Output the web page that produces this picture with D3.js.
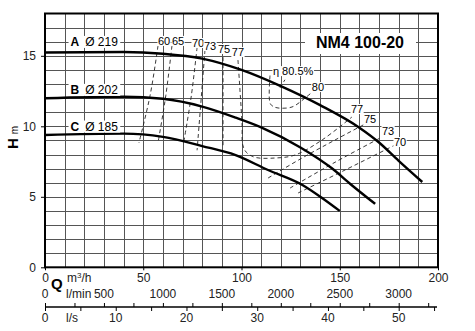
<!DOCTYPE html>
<html>
<head>
<meta charset="utf-8">
<script src="https://cdn.jsdelivr.net/npm/d3@7/dist/d3.min.js"></script>
<style>
  body { margin: 0; background: #fff; }
  svg { display: block; font-family: "Liberation Sans", Arial, Helvetica, sans-serif; }
  .gray { opacity: 0.999; }
</style>
</head>
<body>
<svg id="chart" width="475" height="331"></svg>
<script>
"use strict";

// pump curves (Q m3/h, H m)
const curveA = [[0, 15.23], [40, 15.27], [60, 15.15], [80, 14.8], [100, 14.0], [120, 12.85], [140, 11.5], [160, 9.9], [170, 8.85], [180, 7.55], [192, 6.05]];
const curveB = [[0, 11.99], [40, 12.1], [60, 11.95], [80, 11.4], [97, 10.62], [110, 9.93], [130, 8.5], [146, 7.02], [156, 5.84], [168, 4.5]];
const curveC = [[0, 9.38], [40, 9.48], [60, 9.25], [80, 8.6], [97, 7.96], [113.5, 6.9], [131, 5.84], [141, 4.92], [150, 4.0]];
const curveNames = ["A", "B", "C"];
const curveDiams = ["Ø 219", "Ø 202", "Ø 185"];
const curveLabelAt = [[13, 15.7], [13, 12.3], [13, 9.7]];

// iso-efficiency lines
const eff60 = [[57.5, 15.7], [53.5, 12.2], [47.8, 8.82]];
const eff65 = [[64.6, 15.7], [61.5, 12.2], [57.5, 8.82]];
const eff70 = [[77.4, 15.6], [74.5, 12.2], [70.7, 8.95]];
const eff73 = [[81.4, 15.4], [79.5, 12.0], [77.4, 8.3]];
const eff75 = [[90.6, 14.9], [90.6, 8.5]];
const eff77 = [[98.2, 14.7], [100.3, 10.1], [100.6, 8.7], [102.5, 8.15], [106.9, 7.8], [117, 7.75], [127.2, 7.96], [141, 9.03], [156.2, 10.66]];
const eff80 = [[114.5, 13.6], [114.5, 11.65], [116, 11.42], [118.6, 11.3], [125.7, 11.37], [132.3, 12.0], [135.9, 12.42]];
const eff75r = [[113.5, 6.33], [130.8, 7.75], [147.6, 9.03], [163.9, 10.24]];
const eff73r = [[124.7, 5.62], [147.6, 7.45], [171.5, 9.24]];
const eff70r = [[128.8, 5.27], [152.7, 6.9], [178.1, 8.67]];
const bestLeader = [[119.6, 12.73], [122.1, 13.3]];
const effLines = [eff60, eff65, eff70, eff73, eff75, eff77, eff80, eff75r, eff73r, eff70r, bestLeader];

const effLabels = ["60", "65", "70", "73", "75", "77", "80", "77", "75", "73", "70"];
const effLabelAt = [[60.6, 15.77], [67.7, 15.77], [77.9, 15.62], [84.0, 15.41], [91.1, 15.2], [98.2, 14.98],
                    [138.9, 12.5], [158.8, 10.94], [165.4, 10.23], [174.6, 9.38], [180.7, 8.6]];
const bestLabel = "η 80.5%";
const bestLabelAt = [116.0, 13.63];

// axes
const qTicks = [0, 50, 100, 150, 200];
const hTicks = [0, 5, 10, 15];
const lminLabels = [0, 500, 1000, 1500, 2000, 2500, 3000];
const lsLabels = [0, 10, 20, 30, 40, 50];
const title = "NM4 100-20";

const svg = d3.select("#chart");
const x = d3.scaleLinear().domain([0, 200]).range([45, 438]);
const y = d3.scaleLinear().domain([0, 18]).range([267.3, 13.5]);
const lmin = d3.scaleLinear().domain([0, 200 / 0.06]).range(x.range());
const ls = d3.scaleLinear().domain([0, 200 / 3.6]).range(x.range());

// put a white box behind a text node
function backing(sel, pad)
{
    sel.each(function ()
    {
        const b = this.getBBox();
        d3.select(this.parentNode).insert("rect", () => this)
          .attr("x", b.x - pad).attr("y", b.y + 1).attr("width", b.width + 2 * pad).attr("height", b.height - 2)
          .attr("fill", "#fff");
    });
}

// grid
const grid = svg.append("g").attr("stroke", "#555").attr("stroke-width", 1).attr("shape-rendering", "crispEdges");
grid.selectAll(".gv").data(d3.range(10, 200, 10)).join("line")
    .attr("x1", d => Math.round(x(d)) + 0.5).attr("x2", d => Math.round(x(d)) + 0.5)
    .attr("y1", y(18)).attr("y2", y(0));
grid.selectAll(".gh").data(d3.range(1, 18, 1)).join("line")
    .attr("y1", d => Math.round(y(d)) + 0.5).attr("y2", d => Math.round(y(d)) + 0.5)
    .attr("x1", x(0)).attr("x2", x(200));

// title box
svg.append("rect").attr("x", 305).attr("y", 33).attr("width", 111).attr("height", 21).attr("fill", "#fff");
svg.append("text").attr("x", 360).attr("y", 48).attr("text-anchor", "middle")
    .attr("font-size", 16).attr("font-weight", "bold").attr("fill", "#000").text(title);

// efficiency lines
const effLine = d3.line().x(d => x(d[0])).y(d => y(d[1])).curve(d3.curveCatmullRom.alpha(0.5));
svg.append("g").selectAll("path").data(effLines).join("path")
    .attr("d", effLine).attr("fill", "none").attr("stroke", "#222")
    .attr("stroke-width", 0.9).attr("stroke-dasharray", "4,3");

// pump curves
const pumpLine = d3.line().x(d => x(d[0])).y(d => y(d[1])).curve(d3.curveMonotoneX);
svg.append("g").selectAll("path").data([curveA, curveB, curveC]).join("path")
    .attr("d", pumpLine).attr("fill", "none").attr("stroke", "#000").attr("stroke-width", 2.4);

// curve labels
const clg = svg.append("g").attr("class", "gray");
const cl = clg.selectAll("text").data(curveNames).join("text")
    .attr("x", (d, i) => x(curveLabelAt[i][0])).attr("y", (d, i) => y(curveLabelAt[i][1]))
    .attr("font-size", 12).attr("fill", "#000");
cl.append("tspan").attr("font-weight", "bold").text(d => d);
cl.append("tspan").attr("dx", 6).text((d, i) => curveDiams[i]);
backing(cl, 2);

// efficiency labels
const elg = svg.append("g").attr("class", "gray");
const el = elg.selectAll("text").data(effLabels).join("text")
    .attr("x", (d, i) => x(effLabelAt[i][0])).attr("y", (d, i) => y(effLabelAt[i][1]))
    .attr("text-anchor", "middle").attr("font-size", 11).attr("fill", "#000")
    .text(d => d);
backing(el, 0.5);
const bl = elg.append("text").attr("x", x(bestLabelAt[0])).attr("y", y(bestLabelAt[1]))
    .attr("font-size", 11).attr("fill", "#000")
    .text(bestLabel);
backing(bl, 0.5);

// frame
svg.append("rect").attr("x", x(0)).attr("y", y(18)).attr("width", x(200) - x(0)).attr("height", y(0) - y(18))
    .attr("fill", "none").attr("stroke", "#000").attr("stroke-width", 2);

// H axis
const yAxis = svg.append("g").attr("transform", `translate(${x(0)},0)`)
    .call(d3.axisLeft(y).tickValues(hTicks).tickSize(4).tickPadding(5));
yAxis.select(".domain").remove();
yAxis.selectAll("text").attr("font-size", 12).attr("font-family", null).attr("fill", "#222");
yAxis.selectAll("line").attr("stroke", "#000");

// Q axis (m3/h)
const xAxis = svg.append("g").attr("transform", `translate(0,${y(0)})`)
    .call(d3.axisBottom(x).tickValues(qTicks).tickSize(3).tickPadding(3));
xAxis.select(".domain").remove();
xAxis.selectAll("text").attr("font-size", 12).attr("font-family", null).attr("fill", "#222");
xAxis.selectAll("line").attr("stroke", "#000");

// secondary flow scale
const base = 307;
svg.append("line").attr("x1", x(0)).attr("x2", x(199.5)).attr("y1", base).attr("y2", base)
    .attr("stroke", "#000").attr("stroke-width", 1.5);
const lminAxis = svg.append("g").attr("transform", `translate(0,${base})`)
    .call(d3.axisTop(lmin).tickValues(d3.range(0, 3300, 250)).tickSize(4).tickFormat(""));
lminAxis.select(".domain").remove();
svg.append("g").selectAll("text").data(lminLabels).join("text")
    .attr("x", d => lmin(d)).attr("y", 298).attr("text-anchor", "middle")
    .attr("font-size", 12).attr("fill", "#222").text(d => d);
const lsAxis = svg.append("g").attr("transform", `translate(0,${base})`)
    .call(d3.axisBottom(ls).tickValues(d3.range(0, 56, 5)).tickSize(4).tickFormat(""));
lsAxis.select(".domain").remove();
svg.append("g").selectAll("text").data(lsLabels).join("text")
    .attr("x", d => ls(d)).attr("y", 322).attr("text-anchor", "middle")
    .attr("font-size", 12).attr("fill", "#222").text(d => d);
svg.selectAll(".tick line").attr("stroke", "#000");

// unit labels
svg.append("text").attr("x", 51).attr("y", 289).attr("font-size", 15).attr("font-weight", "bold").attr("fill", "#000").text("Q");
const mh = svg.append("text").attr("x", 67).attr("y", 282).attr("font-size", 12).attr("fill", "#222");
mh.append("tspan").text("m");
mh.append("tspan").attr("font-size", 8).attr("dy", -4).text("3");
mh.append("tspan").attr("dy", 4).text("/h");
svg.append("text").attr("x", 66).attr("y", 298).attr("font-size", 12).attr("fill", "#222").text("l/min");
svg.append("text").attr("x", 66).attr("y", 322).attr("font-size", 12).attr("fill", "#222").text("l/s");

const hl = svg.append("text").attr("transform", "translate(18,149) rotate(-90)").attr("fill", "#000");
hl.append("tspan").attr("font-size", 15).attr("font-weight", "bold").text("H");
hl.append("tspan").attr("font-size", 10).attr("dx", 4).text("m");
</script>
</body>
</html>
